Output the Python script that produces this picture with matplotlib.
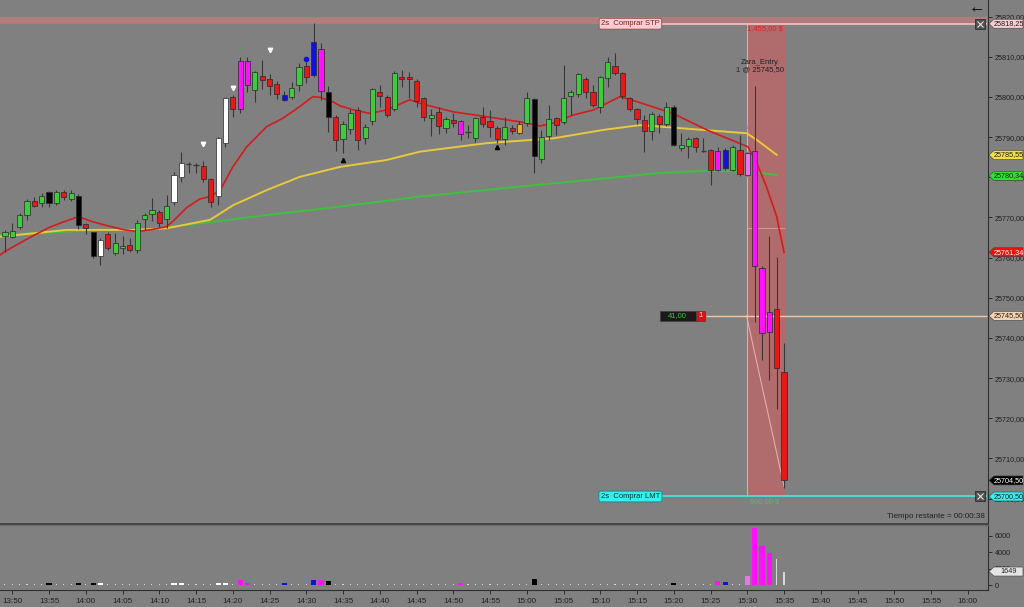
import numpy as np
import matplotlib
matplotlib.use("Agg")
import matplotlib.pyplot as plt
import matplotlib.transforms as mtransforms
from matplotlib.patches import Rectangle, Polygon
from matplotlib.ticker import FuncFormatter

plt.rcParams['font.family'] = ['Liberation Sans', 'DejaVu Sans']

# ==============================================================================
# DATOS (velas de 1 minuto, minuto 0 = 13:50)
# ==============================================================================

minutos = list(range(-1, 106))

aperturas = [
    25765.5, 25765.2, 25767.5, 25770.6, 25774.2, 25773.5, 25773.5, 25773.5, 25776.4, 25774.6,
    25775.3, 25768.4, 25766.3, 25760.4, 25766.0, 25761.2, 25762.5, 25763.1, 25761.9, 25769.5,
    25770.9, 25771.4, 25769.5, 25773.8, 25780.2, 25783.3, 25783.1, 25782.8, 25779.5, 25775.3,
    25788.6, 25800.1, 25797.0, 25809.0, 25801.7, 25805.3, 25804.4, 25803.2, 25800.5, 25800.1,
    25803.0, 25807.8, 25805.5, 25811.9, 25801.3, 25795.1, 25789.5, 25792.0, 25796.8, 25789.7,
    25794.1, 25801.3, 25800.1, 25796.9, 25805.1, 25805.0, 25804.1, 25799.7, 25794.7, 25796.3,
    25792.2, 25794.2, 25794.0, 25791.4, 25789.7, 25795.1, 25794.1, 25792.2, 25789.5, 25792.2,
    25791.1, 25793.6, 25799.4, 25784.5, 25790.3, 25794.7, 25793.8, 25800.3, 25800.7, 25804.4,
    25801.3, 25797.4, 25804.7, 25807.8, 25806.0, 25799.7, 25796.9, 25794.3, 25791.6, 25795.3,
    25793.3, 25797.6, 25787.2, 25787.8, 25789.7, 25786.6, 25786.8, 25781.8, 25782.2, 25781.8,
    25786.8, 25786.0, 25786.5, 25757.3, 25741.5, 25747.1, 25731.6,
]
maximos = [
    25766.8, 25768.7, 25771.0, 25774.5, 25775.2, 25776.0, 25776.7, 25776.8, 25776.8, 25776.8,
    25775.8, 25768.6, 25766.5, 25765.0, 25766.5, 25766.2, 25765.4, 25764.8, 25769.4, 25771.0,
    25774.8, 25771.8, 25775.6, 25781.2, 25786.4, 25783.8, 25783.6, 25784.1, 25779.8, 25790.0,
    25800.0, 25800.4, 25809.9, 25809.9, 25806.5, 25809.2, 25805.8, 25804.0, 25801.5, 25803.8,
    25808.5, 25808.6, 25818.4, 25813.4, 25802.7, 25795.4, 25794.0, 25796.9, 25797.6, 25793.4,
    25802.2, 25803.0, 25800.5, 25806.5, 25806.7, 25806.3, 25804.5, 25800.0, 25797.0, 25797.6,
    25795.0, 25795.9, 25794.2, 25793.1, 25795.1, 25797.6, 25796.8, 25792.8, 25795.1, 25793.0,
    25793.9, 25801.3, 25799.8, 25791.8, 25798.0, 25795.0, 25808.0, 25801.7, 25806.0, 25805.0,
    25803.0, 25805.3, 25810.0, 25811.0, 25806.3, 25800.0, 25797.2, 25795.5, 25796.3, 25795.7,
    25798.8, 25798.0, 25791.1, 25790.1, 25790.0, 25789.7, 25787.0, 25787.6, 25787.2, 25788.1,
    25790.5, 25786.3, 25802.7, 25758.0, 25765.4, 25760.2, 25738.7,
]
minimos = [
    25761.5, 25764.9, 25767.0, 25769.4, 25772.5, 25772.5, 25772.5, 25773.0, 25774.3, 25774.0,
    25767.0, 25766.0, 25760.0, 25758.2, 25762.0, 25760.6, 25760.8, 25761.5, 25761.2, 25766.9,
    25769.0, 25767.5, 25767.3, 25773.0, 25778.9, 25781.0, 25781.0, 25778.8, 25772.7, 25773.0,
    25787.6, 25795.0, 25796.1, 25801.3, 25798.8, 25801.9, 25800.5, 25799.5, 25799.1, 25799.6,
    25801.6, 25803.6, 25805.0, 25799.3, 25791.4, 25786.6, 25786.1, 25790.8, 25786.8, 25788.4,
    25793.0, 25797.6, 25795.0, 25796.5, 25802.6, 25799.7, 25797.6, 25793.9, 25790.3, 25790.8,
    25791.0, 25792.6, 25789.3, 25789.7, 25788.9, 25792.5, 25790.1, 25788.5, 25788.0, 25790.8,
    25790.8, 25792.8, 25781.0, 25783.5, 25789.3, 25790.5, 25793.2, 25795.5, 25800.1, 25799.7,
    25797.4, 25795.9, 25802.6, 25805.5, 25799.4, 25796.5, 25793.4, 25786.4, 25789.3, 25791.0,
    25792.8, 25787.8, 25786.6, 25784.7, 25786.4, 25786.3, 25778.1, 25781.5, 25781.8, 25781.5,
    25780.3, 25780.3, 25744.0, 25734.5, 25729.5, 25722.2, 25702.5,
]
cierres = [
    25766.3, 25766.6, 25770.6, 25774.2, 25772.9, 25775.3, 25776.3, 25776.3, 25775.0, 25776.2,
    25768.1, 25767.3, 25760.5, 25764.4, 25762.3, 25763.7, 25762.9, 25761.9, 25768.5, 25770.6,
    25771.9, 25768.7, 25772.8, 25780.6, 25783.5, 25783.5, 25783.0, 25779.7, 25773.8, 25789.7,
    25799.7, 25796.9, 25809.0, 25803.0, 25806.2, 25804.2, 25802.7, 25800.7, 25799.3, 25802.2,
    25807.5, 25804.9, 25813.6, 25801.6, 25795.1, 25789.3, 25793.4, 25796.0, 25789.3, 25792.6,
    25801.9, 25800.3, 25795.5, 25805.9, 25804.4, 25804.4, 25799.1, 25795.0, 25795.5, 25792.8,
    25794.4, 25793.5, 25790.8, 25791.4, 25794.7, 25793.3, 25792.6, 25789.5, 25792.6, 25791.5,
    25793.3, 25799.7, 25785.3, 25790.0, 25794.4, 25793.0, 25799.7, 25801.2, 25805.7, 25801.3,
    25798.0, 25805.0, 25808.6, 25805.9, 25800.2, 25796.9, 25794.4, 25791.6, 25795.8, 25793.3,
    25797.4, 25788.1, 25788.1, 25789.5, 25787.5, 25786.6, 25781.8, 25786.5, 25786.8, 25787.5,
    25780.8, 25780.6, 25758.0, 25741.1, 25746.5, 25732.4, 25704.5,
]
# g verde, r rojo, k negro, w blanco, m magenta, b azul, o naranja, p rosa, d doji
colores = ("ggggrgkgrg" "krkwrggrgg" "grgwwddrrw" "wrmmgrrrbg" "grbmkrggrg"
           "grrgrrrrgr" "grmdgrrrgr" "ogkggrgggr" "rggrrrrrgr" "gkggrdrmbg" "rpmmmrr")

volumenes = [
    120, 140, 110, 160, 100, 130, 250, 120, 100, 110,
    250, 120, 250, 250, 140, 120, 90, 110, 160, 100,
    120, 130, 150, 200, 300, 90, 80, 120, 150, 250,
    300, 140, 600, 250, 160, 110, 120, 130, 200, 110,
    150, 130, 650, 600, 500, 160, 140, 120, 150, 110,
    160, 100, 120, 170, 90, 100, 130, 120, 100, 110,
    90, 80, 200, 150, 120, 100, 90, 110, 120, 80,
    100, 150, 700, 160, 140, 100, 170, 90, 130, 110,
    120, 150, 130, 100, 140, 110, 100, 130, 120, 100,
    110, 250, 90, 100, 110, 80, 140, 500, 350, 160,
    180, 1100, 6950, 4770, 3880, 3150, 1649,
]

# Medias móviles (minuto, precio)
ema_rapida_t = [-1.7, -1, 1, 3, 5, 7, 9, 11, 13, 15, 17, 19, 21, 22, 23.7, 25.5, 26.9, 28.3, 30,
                31.9, 34.6, 36.8, 39.1, 40.9, 41.9, 43.6, 44.6, 46.4, 48.7, 50.9, 54.1, 55.5,
                60, 64.5, 69.1, 71.8, 73.6, 76.3, 79.1, 80.4, 82.7, 85.4, 89.9, 94.5, 99,
                100.1, 101.3, 102.6, 104, 105]
ema_rapida_v = [25760.6, 25761.5, 25763.6, 25765.6, 25767.5, 25768.9, 25770.2, 25768.9, 25767.9,
                25767.0, 25766.5, 25767.0, 25767.7, 25769.3, 25772.4, 25774.6, 25775.2, 25776.8,
                25782.6, 25787.6, 25792.6, 25794.7, 25797.6, 25800.1, 25799.9, 25798.8, 25797.8,
                25796.8, 25795.9, 25796.8, 25799.3, 25798.4, 25796.3, 25795.1, 25793.8, 25792.8,
                25793.5, 25795.5, 25796.8, 25798.0, 25800.1, 25798.6, 25795.9, 25791.8, 25788.4,
                25787.6, 25783.5, 25777.7, 25770.2, 25761.3]
ema_media_t = [-1.7, 7.4, 16.4, 21, 26.9, 30.1, 34.6, 39.1, 44.6, 50.9, 55.5, 64.5, 73.6, 80.4,
               85.4, 99, 99.9, 101.3, 104]
ema_media_v = [25765.2, 25766.9, 25766.9, 25767.3, 25769.4, 25773.1, 25776.8, 25780.1, 25782.6,
               25784.3, 25786.4, 25788.5, 25789.7, 25791.8, 25793.0, 25791.1, 25791.0, 25789.3,
               25785.6]
ema_lenta_t = [-1.7, 11.9, 17.8, 25.5, 34.6, 44.6, 55.5, 69.1, 82.7, 88.1, 94.5, 100.3, 104]
ema_lenta_v = [25765.6, 25766.9, 25766.9, 25768.5, 25770.6, 25772.7, 25775.2, 25777.7, 25780.1,
               25781.1, 25781.6, 25781.4, 25780.6]

precio_stop = 25818.25
precio_entrada = 25745.50
precio_limite = 25700.50

# (precio, fondo, color del texto)
etiquetas_precio = [
    (25818.25, '#f6cdd2', '#202020'),
    (25785.55, '#f0e040', '#202020'),
    (25780.34, '#30e030', '#202020'),
    (25761.34, '#f01010', '#ffffff'),
    (25745.50, '#f6d2b0', '#202020'),
    (25704.50, '#000000', '#ffffff'),
    (25700.50, '#30f0f0', '#202020'),
]

COLOR_VELA = {'g': '#3ccc3c', 'r': '#e81818', 'k': '#000000', 'w': '#ffffff',
              'm': '#ff10ff', 'b': '#1010e0', 'o': '#f0a830', 'p': '#f070f0', 'd': '#303030'}
FONDO = '#808080'


def coma(v):
    return f"{v:.2f}".replace(".", ",")


def etiqueta_flecha(ax, valor, fondo, color_txt, texto, medio_alto, x0=1.001, x1=1.006, x2=1.0354):
    tr = mtransforms.blended_transform_factory(ax.transAxes, ax.transData)
    pts = [(x0, valor), (x1, valor + medio_alto), (x2, valor + medio_alto),
           (x2, valor - medio_alto), (x1, valor - medio_alto)]
    ax.add_patch(Polygon(pts, closed=True, facecolor=fondo, edgecolor='#404040', lw=0.4,
                         transform=tr, clip_on=False, zorder=6))
    ax.text((x1 + x2) / 2, valor, texto, transform=tr, ha='center', va='center',
            fontsize=5.2, color=color_txt, clip_on=False, zorder=7)


fig = plt.figure(figsize=(10.24, 6.07), dpi=100, facecolor=FONDO)
ax = fig.add_axes([0, 83 / 607, 988 / 1024, 524 / 607], facecolor=FONDO)
axv = fig.add_axes([0, 17 / 607, 988 / 1024, 65 / 607], facecolor=FONDO)

xlim = (-1.673, 132.75)
ax.set_xlim(*xlim)
ax.set_ylim(25693.65, 25824.16)
axv.set_xlim(*xlim)
axv.set_ylim(-612, 7344)

t = np.array(minutos)
o = np.array(aperturas)
h = np.array(maximos)
l = np.array(minimos)
c = np.array(cierres)

# --- zona de la operación ---
ax.add_patch(Rectangle((99.9, precio_limite), 105.1 - 99.9, precio_stop - precio_limite,
                       facecolor='#b06c6c', edgecolor='none', zorder=1))
ax.vlines(99.9, precio_limite, precio_stop, color='#e0aaaa', lw=0.8, zorder=1.1)
ax.hlines(25767.3, 99.9, 105.1, color='#d0a4a4', lw=0.6, zorder=1.1)
ax.plot([99.9, 105.0], [precio_entrada, 25703.0], color='#e8b4b4', lw=0.7, zorder=1.2)

# banda superior de la orden stop
ax.axhspan(25818.2, 25819.85, color='#b07c7c', lw=0, zorder=1)
ax.hlines(precio_stop, 87.9, 132.6, color='#f2c4c4', lw=1.2, zorder=2)
ax.hlines(precio_entrada, 94.4, 132.6, color='#f0caa8', lw=1.0, zorder=2)
ax.hlines(precio_limite, 88.0, 132.6, color='#40e8e8', lw=1.2, zorder=2)

# --- medias ---
ax.plot(ema_lenta_t, ema_lenta_v, color='#40c040', lw=1.4, zorder=3)
ax.plot(ema_media_t, ema_media_v, color='#e8c83c', lw=1.4, zorder=3)
ax.plot(ema_rapida_t, ema_rapida_v, color='#d41c1c', lw=1.2, zorder=3)

# --- velas ---
ancho = 0.7
for i in range(len(t)):
    cod = colores[i]
    ax.vlines(t[i], l[i], h[i], color='#383838', lw=0.8, zorder=4)
    if cod == 'd':
        ax.hlines(o[i], t[i] - ancho / 2, t[i] + ancho / 2, color='#383838', lw=1.0, zorder=5)
        continue
    base = min(o[i], c[i])
    alto = max(abs(c[i] - o[i]), 0.35)
    ax.bar(t[i], alto, bottom=base, width=ancho, color=COLOR_VELA[cod],
           edgecolor='#282828', linewidth=0.5, zorder=5)

# --- marcadores ---
ax.plot([26, 30, 35], [25788.3, 25802.2, 25811.7], 'v', color='white', ms=3.2, zorder=6)
ax.plot([45, 66], [25784.3, 25787.5], '^', color='black', ms=3, zorder=6)
ax.plot([40], [25809.5], 'o', color='#1010e0', ms=3, zorder=6)
for tm, pv in [(31, 25812.0), (41, 25820.2)]:
    ax.text(tm, pv, '↓', color='#30c030', fontsize=6, ha='center', va='center', zorder=6)
ax.text(100, 25792.1, '+', color='#ff40ff', fontsize=6, ha='center', va='center', zorder=6)
ax.text(101, 25804.5, '↓', color='#ff30ff', fontsize=6, ha='center', va='center', zorder=6)

# --- textos de la operación ---
ax.text(101.7, 25807.7, 'Zara_Entry\n1 @ 25745,50', fontsize=5.5, color='#202020',
        ha='center', va='center', linespacing=1.0, zorder=7)
ax.text(102.4, 25817.1, '1.455,00 $', fontsize=5.5, color='#e02020', ha='center', va='center', zorder=7)
ax.text(102.4, 25699.3, '900,00 $', fontsize=5.5, color='#40d040', ha='center', va='center', zorder=7)

ax.text(84.1, precio_stop, '2s  Comprar STP', fontsize=5.5, color='#802020', ha='center', va='center',
        zorder=7, bbox=dict(boxstyle='round,pad=0.25', fc='#f6cdd2', ec='#a04848', lw=0.6))
ax.text(84.1, precio_limite, '2s  Comprar LMT', fontsize=5.5, color='#103030', ha='center', va='center',
        zorder=7, bbox=dict(boxstyle='round,pad=0.25', fc='#30f0f0', ec='#208080', lw=0.6))

# caja de ganancia
ax.add_patch(Rectangle((88.1, precio_entrada - 1.2), 4.9, 2.4, facecolor='#1a1a1a',
                       edgecolor='#404040', lw=0.5, zorder=7))
ax.add_patch(Rectangle((93.0, precio_entrada - 1.2), 1.2, 2.4, facecolor='#e01010',
                       edgecolor='#404040', lw=0.5, zorder=7))
ax.text(90.5, precio_entrada, '41,00', fontsize=5.5, color='#40c040', ha='center', va='center', zorder=8)
ax.text(93.6, precio_entrada, '1', fontsize=5.5, color='white', ha='center', va='center', zorder=8)

# botones de cerrar
for pv in [precio_stop, precio_limite]:
    ax.plot(131.6, pv, 's', ms=7, color='#505050', mec='#202020', mew=0.5, zorder=7, clip_on=False)
    ax.plot(131.6, pv, 'x', ms=4.5, color='#e0e0e0', mew=0.8, zorder=8, clip_on=False)

ax.text(985 / 988, 8 / 524, 'Tiempo restante = 00:00:38', transform=ax.transAxes,
        fontsize=5.8, color='#202020', ha='right', va='center')
fig.text(977 / 1024, 1 - 8 / 607, '←', fontsize=12, color='black', ha='center', va='center')

# --- eje de precios ---
ax.yaxis.tick_right()
ax.set_yticks(np.arange(25700, 25821, 10))
ax.yaxis.set_major_formatter(FuncFormatter(lambda v, p: coma(v)))
ax.tick_params(axis='y', direction='out', length=3, width=0.6, colors='#202020', labelsize=5.2, pad=2)
ax.set_xticks([])
for s in ['top', 'left']:
    ax.spines[s].set_visible(False)
ax.spines['right'].set_color('#303030')
ax.spines['bottom'].set_color('#3a3a3a')
ax.spines['bottom'].set_linewidth(1.2)

for valor, fondo, ctxt in etiquetas_precio:
    etiqueta_flecha(ax, valor, fondo, ctxt, coma(valor), 1.12)

# --- volumen ---
for i in range(len(t)):
    cod = colores[i]
    if cod in 'kwmbp':
        axv.bar(t[i], volumenes[i], width=ancho, color=COLOR_VELA[cod], lw=0, zorder=3)
    else:
        axv.bar(t[i], volumenes[i], width=0.15, color='#d8d8d8', lw=0, zorder=3)

axv.yaxis.tick_right()
axv.set_yticks([0, 2000, 4000, 6000])
axv.tick_params(axis='y', direction='out', length=3, width=0.6, colors='#202020', labelsize=5.2, pad=2)
etiqueta_flecha(axv, 1649, '#e4e4e4', '#202020', '1649', 551)

ticks_t = np.arange(0, 131, 5)
axv.set_xticks(ticks_t)
axv.set_xticklabels([f"{13 + (50 + m) // 60}:{(50 + m) % 60:02d}" for m in ticks_t])
axv.tick_params(axis='x', direction='out', length=3, width=0.6, colors='#202020', labelsize=5.8, pad=3)
axv.spines['left'].set_visible(False)
axv.spines['top'].set_color('#6a6a6a')
axv.spines['right'].set_color('#303030')
axv.spines['bottom'].set_color('#303030')

plt.savefig('out.png', dpi=100, facecolor=FONDO)
